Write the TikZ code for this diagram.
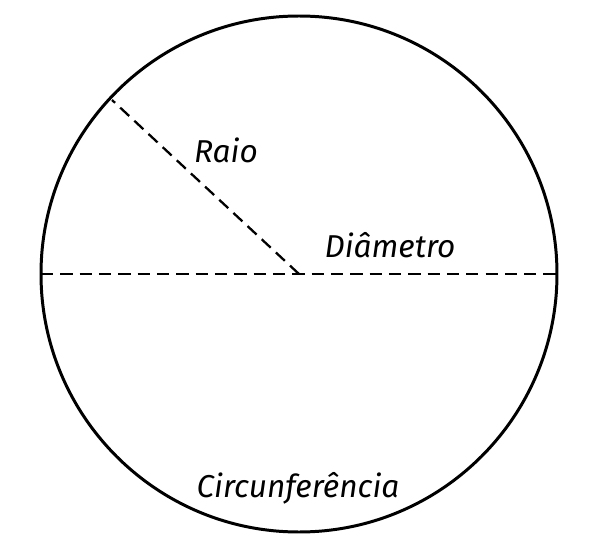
\documentclass[tikz,border=0pt]{standalone}
\usepackage{fontspec}
\setmainfont{Fira Sans}
\begin{document}
\begin{tikzpicture}[x=0.02cm,y=-0.02cm,
    tracejado/.style={line width=1.3pt,dash pattern=on 7pt off 4pt},
    rotulo/.style={font=\fontsize{18}{20}\selectfont\itshape}]
  \useasboundingbox (0,0) rectangle (600,548);
  % circunferencia
  \coordinate (centro) at (299,274);
  \draw[line width=1.7pt] (centro) circle[radius=258];
  % raio e diametro
  \coordinate (raiofim) at (112,100);
  \coordinate (esq) at (41,274);
  \coordinate (dir) at (557,274);
  \draw[tracejado] (centro) -- (raiofim);
  \draw[tracejado] (esq) -- (dir);
  % rotulos
  \node[rotulo] (raio) at (226,150) {Raio};
  \node[rotulo] (diam) at (390,245) {Diâmetro};
  \node[rotulo] (circ) at (298,488) {Circunferência};
\end{tikzpicture}
\end{document}
